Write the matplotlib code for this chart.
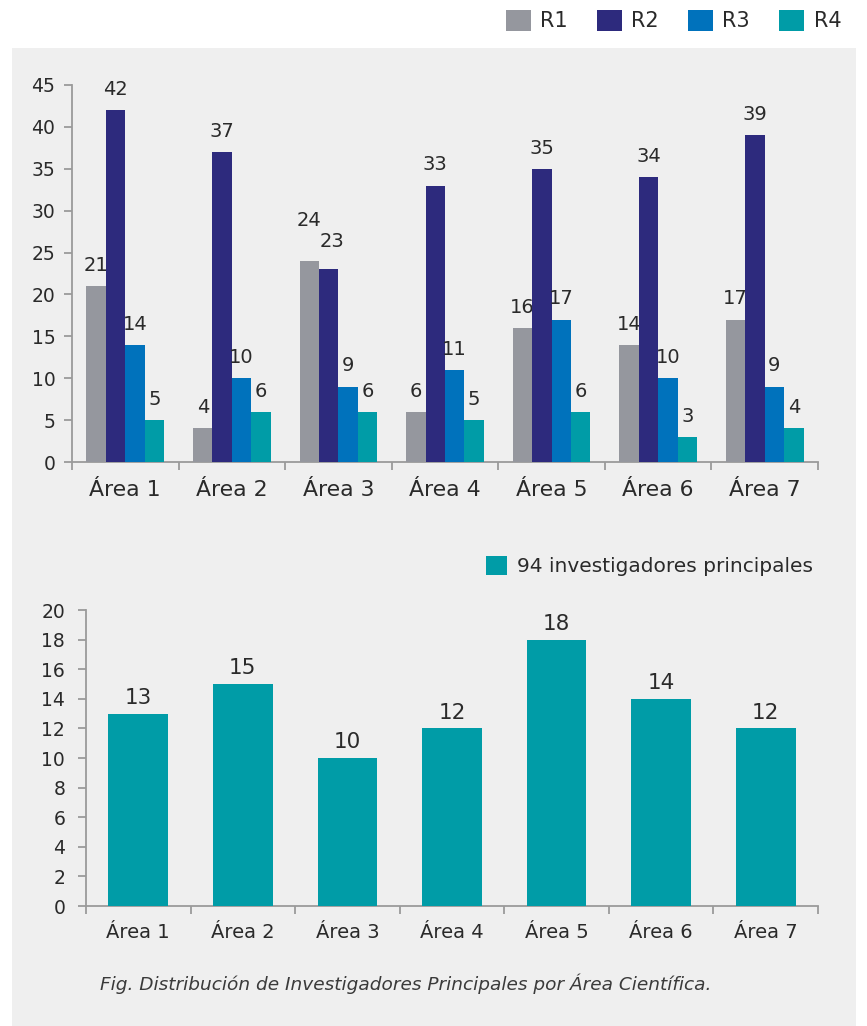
import matplotlib
matplotlib.use("Agg")
import matplotlib.pyplot as plt
from matplotlib.patches import Patch
import numpy as np

plt.rcParams['font.family'] = ['DejaVu Sans']

areas = ["Área 1", "Área 2", "Área 3", "Área 4", "Área 5", "Área 6", "Área 7"]
series_names = ["R1", "R2", "R3", "R4"]
r1 = [21, 4, 24, 6, 16, 14, 17]
r2 = [42, 37, 23, 33, 35, 34, 39]
r3 = [14, 10, 9, 11, 17, 10, 9]
r4 = [5, 6, 6, 5, 6, 3, 4]
ip_values = [13, 15, 10, 12, 18, 14, 12]
ip_label = "94 investigadores principales"
caption = "Fig. Distribución de Investigadores Principales por Área Científica."

colors = ["#95979e", "#2d2a7d", "#0072bc", "#009ca7"]
panel = "#efefef"
axis_col = "#9a9a9a"
text_col = "#2a2a2a"

W, H = 867, 1026
fig = plt.figure(figsize=(W/100, H/100), dpi=100)
fig.patch.set_facecolor("white")
bg = fig.add_axes([12/W, 0, (856-12)/W, (1026-48)/H], zorder=-10)
bg.set_facecolor(panel)
bg.set_xticks([]); bg.set_yticks([])
for s in bg.spines.values():
    s.set_visible(False)

def px_axes(x0, y_top, x1, y_bot):
    return fig.add_axes([x0/W, (H-y_bot)/H, (x1-x0)/W, (y_bot-y_top)/H])

def style(ax, fs_tick, ypad):
    ax.set_facecolor("none")
    for s in ["top", "right"]:
        ax.spines[s].set_visible(False)
    for s in ["left", "bottom"]:
        ax.spines[s].set_color(axis_col)
        ax.spines[s].set_linewidth(1.3)
    ax.tick_params(axis="y", colors=axis_col, labelcolor=text_col, labelsize=fs_tick, length=6, width=1.3, pad=ypad)
    ax.tick_params(axis="x", which="major", length=0, labelcolor=text_col)
    ax.tick_params(axis="x", which="minor", colors=axis_col, length=6, width=1.3)
    ax.set_xlim(-0.5, len(areas)-0.5)
    ax.set_xticks(np.arange(len(areas)))
    ax.set_xticks(np.arange(len(areas)+1)-0.5, minor=True)

# ---- top chart
ax1 = px_axes(72, 85, 818, 462)
style(ax1, 13.5, 6)
x = np.arange(len(areas))
bw = 0.182
data = [r1, r2, r3, r4]
base_pad = 8
for i, (vals, c) in enumerate(zip(data, colors)):
    xs = x + (i-1.5)*bw
    ax1.bar(xs, vals, width=bw, color=c, zorder=3)
    for j, (xx, v) in enumerate(zip(xs, vals)):
        pad, dx = base_pad, 0
        if i == 0 and j == 2:
            pad = 22      # "24" lifted to clear "23"
        elif i == 1 and j == 2:
            pad, dx = 13.5, 2
        ax1.annotate(str(v), (xx, v), xytext=(dx, pad), textcoords="offset points",
                     ha="center", va="bottom", fontsize=14, color=text_col)
ax1.set_ylim(0, 45)
ax1.set_yticks(range(0, 46, 5))
ax1.set_xticklabels(areas, fontsize=15.8)
ax1.tick_params(axis="x", pad=13)

handles = [Patch(facecolor=c, edgecolor="none") for c in colors]
fig.legend(handles, series_names, loc="upper right", bbox_to_anchor=(860/W, 1+9/H),
           ncol=4, frameon=False, fontsize=15, handlelength=1.2, handleheight=1.2,
           handletextpad=0.45, columnspacing=1.4, labelcolor=text_col)

# ---- bottom chart
ax2 = px_axes(86, 610, 818, 906)
style(ax2, 13.5, 9)
bars = ax2.bar(x, ip_values, width=0.57, color=colors[3], zorder=3)
ax2.bar_label(bars, labels=[str(v) for v in ip_values], padding=4, fontsize=15.5, color=text_col)
ax2.set_ylim(0, 20)
ax2.set_yticks(range(0, 21, 2))
ax2.set_xticklabels(areas, fontsize=14)
ax2.tick_params(axis="x", pad=12)
fig.legend([Patch(facecolor=colors[3], edgecolor="none")], [ip_label], loc="center right",
           bbox_to_anchor=(831/W, 1-566/H), frameon=False, fontsize=14.5, handlelength=1.05,
           handleheight=1.05, handletextpad=0.5, labelcolor=text_col)

fig.text(100/W, 1-984/H, caption, fontsize=13.3, style="italic", color="#3a3a3a", va="center", ha="left")

fig.savefig("out.png", dpi=100, facecolor="white")
